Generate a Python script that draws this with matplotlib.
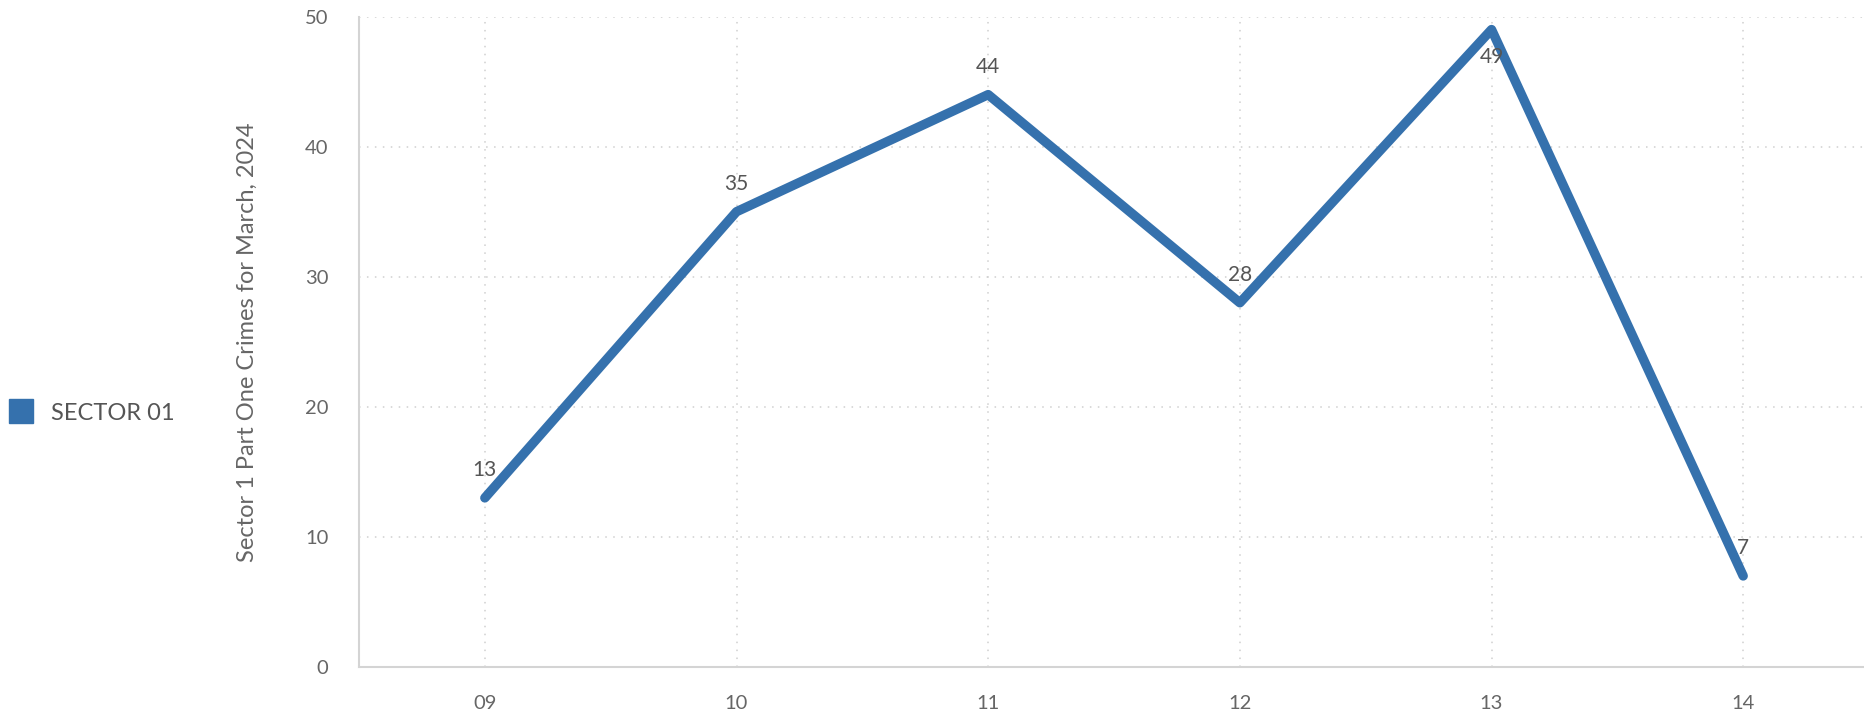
import matplotlib
matplotlib.use("Agg")
import matplotlib.pyplot as plt
from matplotlib.lines import Line2D

hours = ["09", "10", "11", "12", "13", "14"]
crimes = [13, 35, 44, 28, 49, 7]
series_name = "SECTOR 01"
y_title = "Sector 1 Part One Crimes for March, 2024"

BLUE = "#3571ad"
TXT = "#666666"
GRID = "#cfcfcf"

plt.rcParams["font.family"] = ["Lato", "DejaVu Sans"]

fig = plt.figure(figsize=(18.64, 7.14), dpi=100)
ax = fig.add_axes([0.1926, 0.0658, 0.8074, 0.911])

x = list(range(len(hours)))
ax.plot(x, crimes, color=BLUE, lw=6.8, solid_capstyle="round",
        solid_joinstyle="round", zorder=3)

for xi, v in zip(x, crimes):
    off = -20 if v == max(crimes) else 20
    ax.annotate(str(v), (xi, v), xytext=(0, off), textcoords="offset points",
                ha="center", va="center", fontsize=15, color="#555555", zorder=4)

ax.set_xlim(-0.5, 5.48)
ax.set_ylim(0, 50)
ax.set_xticks(x)
ax.set_xticklabels(hours)
ax.set_yticks(range(0, 51, 10))
ax.tick_params(axis="both", length=0, labelsize=14.5, labelcolor=TXT)
ax.tick_params(axis="y", pad=22)
ax.tick_params(axis="x", pad=20)
ax.grid(True, color=GRID, lw=1.1, linestyle=(0, (1, 4.2)))
ax.set_axisbelow(True)
for s in ("top", "right"):
    ax.spines[s].set_visible(False)
for s in ("left", "bottom"):
    ax.spines[s].set_color("#d4d4d4")
    ax.spines[s].set_linewidth(1.5)

ax.set_ylabel(y_title, fontsize=17, color=TXT, labelpad=34)

handle = Line2D([], [], marker="s", color=BLUE, lw=0, markersize=17)
fig.legend([handle], [series_name], loc="center left",
           bbox_to_anchor=(-0.0028, 1 - 413 / 714), frameon=False,
           fontsize=17, labelcolor="#555555", handletextpad=0.3,
           borderaxespad=0.0, borderpad=0.1)

fig.savefig("out.png")
